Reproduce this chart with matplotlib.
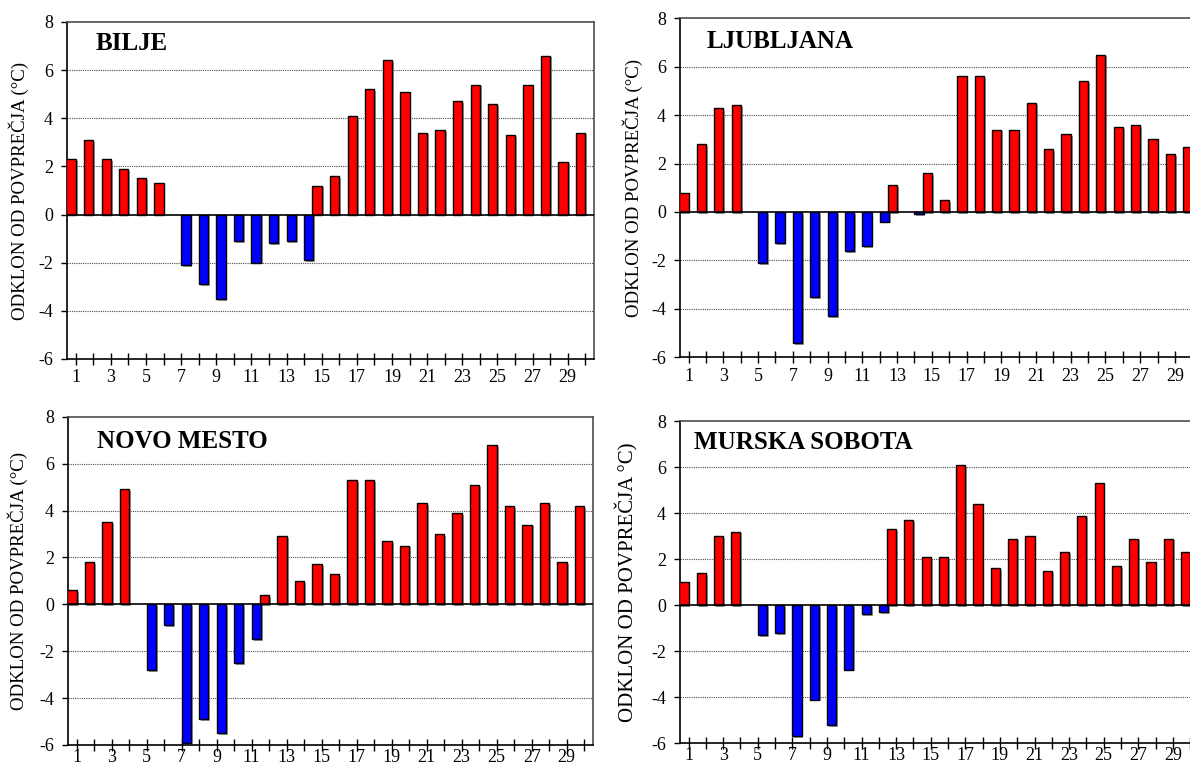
import matplotlib
matplotlib.use("Agg")
import matplotlib.pyplot as plt
import matplotlib.patheffects as pe
import numpy as np

plt.rcParams['font.family'] = ['Liberation Serif', 'DejaVu Serif']
plt.rcParams['axes.unicode_minus'] = False

dnevi = np.arange(1, 31)

bilje = [2.3, 3.1, 2.3, 1.9, 1.5, 1.3, -2.1, -2.9, -3.5, -1.1,
         -2.0, -1.2, -1.1, -1.9, 1.2, 1.6, 4.1, 5.2, 6.4, 5.1,
         3.4, 3.5, 4.7, 5.4, 4.6, 3.3, 5.4, 6.6, 2.2, 3.4]
ljubljana = [0.8, 2.8, 4.3, 4.4, -2.1, -1.3, -5.4, -3.5, -4.3, -1.6,
             -1.4, -0.4, 1.1, -0.1, 1.6, 0.5, 5.6, 5.6, 3.4, 3.4,
             4.5, 2.6, 3.2, 5.4, 6.5, 3.5, 3.6, 3.0, 2.4, 2.7]
novo_mesto = [0.6, 1.8, 3.5, 4.9, -2.8, -0.9, -5.9, -4.9, -5.5, -2.5,
              -1.5, 0.4, 2.9, 1.0, 1.7, 1.3, 5.3, 5.3, 2.7, 2.5,
              4.3, 3.0, 3.9, 5.1, 6.8, 4.2, 3.4, 4.3, 1.8, 4.2]
murska_sobota = [1.0, 1.4, 3.0, 3.2, -1.3, -1.2, -5.7, -4.1, -5.2, -2.8,
                 -0.4, -0.3, 3.3, 3.7, 2.1, 2.1, 6.1, 4.4, 1.6, 2.9,
                 3.0, 1.5, 2.3, 3.9, 5.3, 1.7, 2.9, 1.9, 2.9, 2.3]

# naslov, podatki, [left, bottom, width, height], položaj naslova,
# oznaka osi y, velikost oznake, x oznake, odmik oznak na osi x
postaje = [
    ("BILJE", bilje, [0.0563, 0.532, 0.4429, 0.4394], (0.055, 0.937),
     "ODKLON OD POVPREČJA (°C)", 13.6, -0.072, 3),
    ("LJUBLJANA", ljubljana, [0.5714, 0.5342, 0.4378, 0.442], (0.052, 0.930),
     "ODKLON OD POVPREČJA (°C)", 13.6, -0.071, 3),
    ("NOVO MESTO", novo_mesto, [0.0571, 0.0287, 0.4412, 0.428], (0.055, 0.924),
     "ODKLON OD POVPREČJA (°C)", 13.6, -0.076, -1.5),
    ("MURSKA SOBOTA", murska_sobota, [0.5714, 0.0309, 0.436, 0.420], (0.027, 0.933),
     "ODKLON OD POVPREČJA °C)", 15, -0.079, -1.5),
]

sirina = 0.53
senca = [pe.SimplePatchShadow(offset=(1.3, -1.3), shadow_rgbFace='0.45', alpha=0.7), pe.Normal()]

fig = plt.figure(figsize=(11.9, 7.67), dpi=100)

for naslov, vrednosti, rect, (tx, ty), oznaka, velikost, lx, xpad in postaje:
    ax = fig.add_axes(rect)
    v = np.array(vrednosti)
    toplo = np.where(v > 0, v, 0)
    hladno = np.where(v < 0, v, 0)

    ax.set_ylim(-6, 8)
    ax.set_xlim(0.5, 30.5)
    ax.set_yticks(np.arange(-6, 9, 2))
    ax.set_xticks(np.arange(1, 31, 2))
    ax.set_xticks(np.arange(2, 31, 2), minor=True)

    for y in (-4, -2, 2, 4, 6):
        ax.axhline(y, color='0.3', lw=0.8, ls=(0, (1, 1)), zorder=1)

    b1 = ax.bar(dnevi[v > 0] - sirina / 2, toplo[v > 0], width=sirina,
                color='#ff0000', edgecolor='black', lw=1.0, zorder=3)
    b2 = ax.bar(dnevi[v < 0] + sirina / 2, hladno[v < 0], width=sirina,
                color='#0000ff', edgecolor='black', lw=1.0, zorder=3)
    for p in list(b1) + list(b2):
        p.set_path_effects(senca)

    ax.axhline(0, color='black', lw=1.2, zorder=4)

    ax.text(tx, ty, naslov, transform=ax.transAxes, fontsize=18,
            fontweight='bold', ha='left', va='center')

    ax.set_ylabel(oznaka, fontsize=velikost)
    ax.yaxis.set_label_coords(lx, 0.5)

    ax.tick_params(axis='y', direction='out', length=4, width=1, labelsize=13, pad=6)
    ax.tick_params(axis='x', which='both', direction='inout', length=9, width=1,
                   labelsize=13, pad=xpad)

    for s in ('left', 'bottom'):
        ax.spines[s].set_color('black')
        ax.spines[s].set_linewidth(1.2)
    for s in ('top', 'right'):
        ax.spines[s].set_color('0.3')
        ax.spines[s].set_linewidth(1.2)
    ax.spines['bottom'].set_zorder(5)

fig.savefig("out.png", dpi=100)
